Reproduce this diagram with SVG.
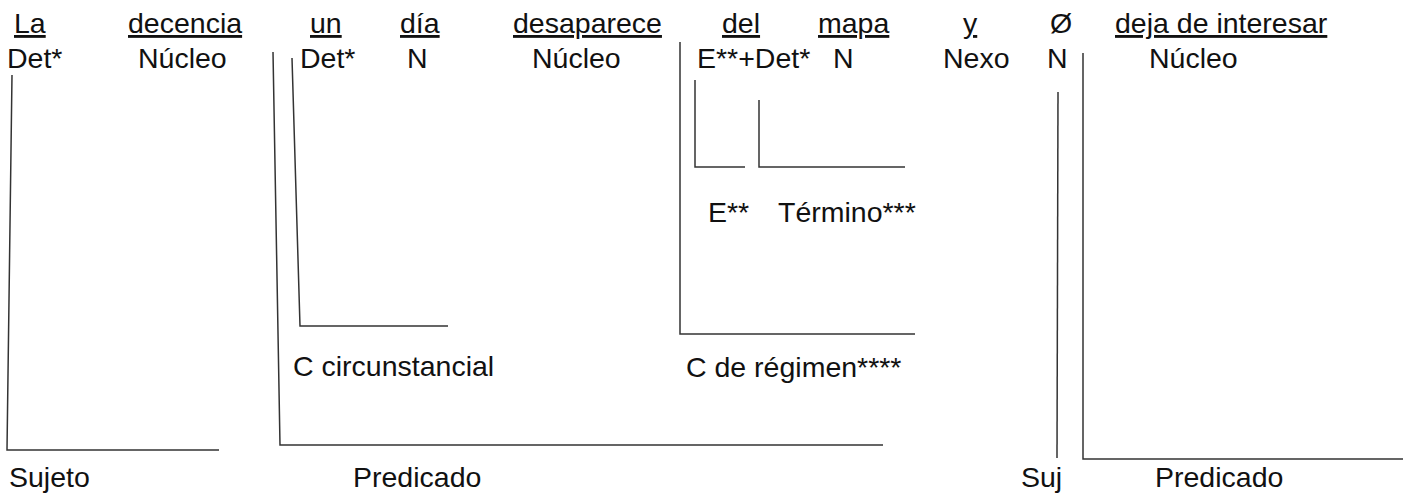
<svg xmlns="http://www.w3.org/2000/svg" width="1410" height="497" viewBox="0 0 1410 497">
<style>
text{font-family:"Liberation Sans",Arial,sans-serif;font-size:28.5px;fill:#111}
.u{text-decoration:underline}
.ln{stroke:#333;stroke-width:1.5;fill:none}
</style>
<rect width="1410" height="497" fill="#fff"/>
<g id="words">
<g id="w-la"><text class="u" x="14" y="33">La</text><text x="7" y="68">Det*</text></g>
<g id="w-decencia"><text class="u" x="128" y="33">decencia</text><text x="138" y="68">Núcleo</text></g>
<g id="w-un"><text class="u" x="310" y="33">un</text><text x="300" y="68">Det*</text></g>
<g id="w-dia"><text class="u" x="400" y="33">día</text><text x="407" y="68">N</text></g>
<g id="w-desaparece"><text class="u" x="513" y="33">desaparece</text><text x="532" y="68">Núcleo</text></g>
<g id="w-del"><text class="u" x="722" y="33">del</text><text x="697" y="68">E**+Det*</text></g>
<g id="w-mapa"><text class="u" x="818" y="33">mapa</text><text x="833" y="68">N</text></g>
<g id="w-y"><text class="u" x="963" y="33">y</text><text x="943" y="68">Nexo</text></g>
<g id="w-null"><text x="1050" y="33">Ø</text><text x="1047" y="68">N</text></g>
<g id="w-deja"><text class="u" x="1115" y="33">deja de interesar</text><text x="1149" y="68">Núcleo</text></g>
</g>
<g id="labels">
<g id="l-e"><text x="708" y="222">E**</text></g>
<g id="l-termino"><text x="778" y="222">Término***</text></g>
<g id="l-ccirc"><text x="293" y="376">C circunstancial</text></g>
<g id="l-creg"><text x="686" y="377">C de régimen****</text></g>
<g id="l-sujeto"><text x="9" y="487">Sujeto</text></g>
<g id="l-pred1"><text x="353" y="487">Predicado</text></g>
<g id="l-suj"><text x="1021" y="487">Suj</text></g>
<g id="l-pred2"><text x="1155" y="487">Predicado</text></g>
</g>
<g id="connectors">
<polyline class="ln" points="12,75 7,450 219,450"/>
<polyline class="ln" points="273,52 280,445 883,445"/>
<polyline class="ln" points="292,58 300,326 448,326"/>
<polyline class="ln" points="680,42 680,334 915,334"/>
<polyline class="ln" points="695,80 695,167 745,167"/>
<polyline class="ln" points="759,100 759,167 905,167"/>
<line class="ln" x1="1058" y1="92" x2="1057" y2="458"/>
<polyline class="ln" points="1083,53 1083,459 1403,459"/>
</g>
</svg>
